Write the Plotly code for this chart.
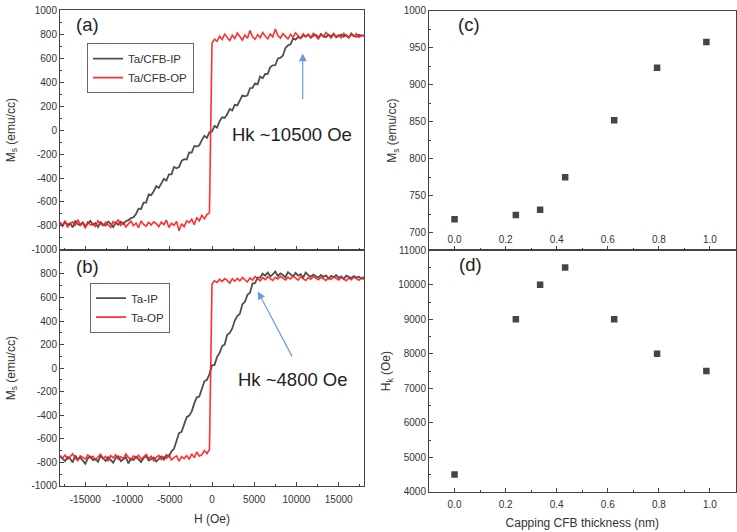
import plotly.graph_objects as go

# ---------------- data ----------------
# applied field grid (Oe) shared by the four M-H loops
H_FIELD = list(range(-18000, 18001, 300))

# (a) Ta/CFB  in-plane / out-of-plane  (emu/cc)
MS_A_IP = [
    -772, -801, -765, -790, -778, -812, -760, -785, -795, -770,
    -803, -781, -758, -792, -776, -808, -769, -788, -797, -764,
    -782, -810, -773, -791, -766, -784, -760,
    -752, -735, -728, -700,
    -656, -658, -606, -605, -537, -543, -510, -468, -483, -450,
    -406, -422, -370, -369, -308, -318, -309, -256, -243, -246,
    -186, -188, -132, -137, -127, -81, -48, -65, -17, -11,
    35, 21, 74, 107, 102, 132, 177, 164, 211, 206,
    249, 290, 283, 290, 350, 352, 391, 383, 448, 433,
    469, 470, 527, 541, 542, 599, 604, 624, 686, 708,
    716, 765, 756, 779,
    768, 792, 780, 801, 774, 789, 796, 771, 803, 785,
    777, 798, 782, 806, 775, 790, 799, 781, 794, 772,
    808, 786, 779, 797, 788, 792,
]
MS_A_OP = [
    -770, -795, -758, -812, -781, -766, -799, -748, -788, -775,
    -820, -762, -791, -779, -805, -757, -784, -798, -769, -790,
    -812, -764, -780, -747, -795, -772, -808, -783, -760, -798,
    -776, -815, -759, -787, -801, -770, -792, -765, -781, -806,
    -768, -789, -752, -813, -778, -795, -762, -840, -781, -806,
    -758, -772, -745, -790, -730, -758, -712, -741, -705, -690,
    725, 760, 742, 785, 758, 801, 770, 748, 792, 765,
    810, 777, 752, 795, 768, 832, 780, 759, 798, 772,
    815, 786, 763, 802, 779, 845, 790, 768, 806, 783,
    761, 799, 775, 812, 788, 766, 804, 781, 795, 770,
    808, 784, 762, 797, 779, 815, 788, 769, 801, 782,
    794, 771, 809, 786, 778, 798, 783, 805, 775, 792, 788,
]

# (b) Ta  in-plane / out-of-plane  (emu/cc)
MS_B_IP = [
    -748, -772, -790, -755, -768, -801, -742, -776, -759, -785,
    -812, -764, -750, -781, -770, -795, -745, -766, -788, -757,
    -779, -803, -761, -748, -790, -772, -756, -809, -768, -781,
    -752, -775, -798, -763, -747, -784, -770, -758, -793, -766,
    -749, -777, -738, -752,
    -706, -685, -608, -551, -540, -485, -416, -403, -367, -299,
    -248, -241, -173, -112, -99, -50, 24, 28, 95, 129,
    188, 200, 284, 299, 337, 404, 442, 461, 543, 564,
    622, 640, 718, 723, 768, 770,
    802, 785, 812, 778, 796, 820, 783, 805, 790, 772,
    815, 794, 779, 808, 786, 798, 770, 812, 789, 776,
    795, 781, 768, 792, 775, 787, 760, 783, 771, 790,
    766, 779, 758, 785, 772, 764, 781, 769, 776, 760, 774,
]
MS_B_OP = [
    -742, -765, -738, -771, -752, -728, -760, -785, -745, -757,
    -770, -736, -762, -748, -779, -755, -731, -766, -750, -789,
    -743, -761, -737, -774, -752, -768, -729, -758, -781, -746,
    -763, -740, -772, -755, -733, -768, -749, -786, -757, -741,
    -775, -752, -766, -738, -779, -760, -745, -790, -752, -768,
    -742, -775, -728, -760, -712, -748, -735, -700, -725, -690,
    715, 742, 728, 755, 735, 760, 745, 722, 758, 738,
    762, 741, 770, 750, 732, 765, 748, 778, 756, 742,
    768, 752, 775, 760, 745, 772, 758, 780, 763, 749,
    771, 757, 783, 762, 748, 775, 760, 744, 769, 755,
    778, 761, 750, 772, 758, 745, 767, 753, 776, 760,
    748, 770, 756, 742, 765, 751, 774, 759, 746, 768, 755,
]

# (c),(d) vs capping CFB thickness
CAP_THICK = [0.0, 0.24, 0.335, 0.433, 0.625, 0.793, 0.986]
MS_CAP = [718, 724, 731, 775, 852, 923, 958]
HK_CAP = [4500, 9000, 10000, 10500, 9000, 8000, 7500]

LEFT_Y_TICKS = [-1000, -800, -600, -400, -200, 0, 200, 400, 600, 800, 1000]
LEFT_X_TICKS = [-15000, -10000, -5000, 0, 5000, 10000, 15000]
C_Y_TICKS = [700, 750, 800, 850, 900, 950, 1000]
D_Y_TICKS = [4000, 5000, 6000, 7000, 8000, 9000, 10000, 11000]
CAP_X_TICKS = [0.0, 0.2, 0.4, 0.6, 0.8, 1.0]

# ---------------- figure ----------------
W, H = 737, 532
FONT = "Liberation Sans"
BLACK_LINE = "rgba(60,60,60,0.9)"
RED_LINE = "rgba(255,30,30,0.92)"

fig = go.Figure()
fig.add_trace(go.Scatter(x=H_FIELD, y=MS_A_IP, mode="lines", name="Ta/CFB-IP",
                         line=dict(color=BLACK_LINE, width=1.8), xaxis="x", yaxis="y", legend="legend"))
fig.add_trace(go.Scatter(x=H_FIELD, y=MS_A_OP, mode="lines", name="Ta/CFB-OP",
                         line=dict(color=RED_LINE, width=1.6), xaxis="x", yaxis="y", legend="legend"))
fig.add_trace(go.Scatter(x=H_FIELD, y=MS_B_IP, mode="lines", name="Ta-IP",
                         line=dict(color=BLACK_LINE, width=1.8), xaxis="x2", yaxis="y2", legend="legend2"))
fig.add_trace(go.Scatter(x=H_FIELD, y=MS_B_OP, mode="lines", name="Ta-OP",
                         line=dict(color=RED_LINE, width=1.6), xaxis="x2", yaxis="y2", legend="legend2"))
fig.add_trace(go.Scatter(x=CAP_THICK, y=MS_CAP, mode="markers", showlegend=False,
                         marker=dict(symbol="square", size=6.5, color="#454545"), xaxis="x3", yaxis="y3"))
fig.add_trace(go.Scatter(x=CAP_THICK, y=HK_CAP, mode="markers", showlegend=False,
                         marker=dict(symbol="square", size=6.5, color="#454545"), xaxis="x4", yaxis="y4"))


def px_x(p):
    return p / W


def px_y(p):
    return 1 - p / H


common = dict(showline=True, linecolor="#444", linewidth=1, mirror=True,
              ticks="inside", ticklen=4, tickcolor="#444", tickwidth=1,
              tickfont=dict(family=FONT, size=10, color="#333"),
              showgrid=False, zeroline=False)

LX = [px_x(60), px_x(364)]
RX = [px_x(429), px_x(735.5)]
title_font = dict(family=FONT, size=12, color="#333")

fig.update_layout(
    width=W, height=H, autosize=False,
    margin=dict(l=0, r=0, t=0, b=0),
    paper_bgcolor="white", plot_bgcolor="white",
    xaxis=dict(common, domain=LX, anchor="y", range=[-18000, 18000],
               tickvals=LEFT_X_TICKS, showticklabels=False,
               minor=dict(ticks="inside", ticklen=2, dtick=2500, tick0=0, tickcolor="#444")),
    yaxis=dict(common, domain=[px_y(249.5), px_y(4.5)], anchor="x", range=[-1000, 1000],
               tickvals=LEFT_Y_TICKS, ticktext=[str(v) for v in LEFT_Y_TICKS],
               minor=dict(ticks="inside", ticklen=2, dtick=100, tick0=0, tickcolor="#444"),
               title=dict(text="M<sub>s</sub> (emu/cc)", font=title_font, standoff=13)),
    xaxis2=dict(common, domain=LX, anchor="y2", range=[-18000, 18000],
                tickvals=LEFT_X_TICKS, ticktext=[str(v) for v in LEFT_X_TICKS],
                ticklabelstandoff=4,
                minor=dict(ticks="inside", ticklen=2, dtick=2500, tick0=0, tickcolor="#444"),
                title=dict(text="H (Oe)", font=title_font, standoff=10)),
    yaxis2=dict(common, domain=[px_y(491), px_y(250)], anchor="x2", range=[-1000, 1000],
                tickvals=LEFT_Y_TICKS[:-1], ticktext=[str(v) for v in LEFT_Y_TICKS[:-1]],
                minor=dict(ticks="inside", ticklen=2, dtick=100, tick0=0, tickcolor="#444"),
                title=dict(text="M<sub>s</sub> (emu/cc)", font=title_font, standoff=13)),
    xaxis3=dict(common, domain=RX, anchor="y3", range=[-0.1, 1.1],
                tickvals=CAP_X_TICKS, ticktext=["%.1f" % v for v in CAP_X_TICKS],
                ticklabelposition="inside",
                minor=dict(ticks="inside", ticklen=2, dtick=0.1, tick0=0, tickcolor="#444")),
    yaxis3=dict(common, domain=[px_y(250), px_y(5)], anchor="x3", range=[676, 1000],
                tickvals=C_Y_TICKS, ticktext=[str(v) for v in C_Y_TICKS],
                minor=dict(ticks="inside", ticklen=2, dtick=25, tick0=0, tickcolor="#444"),
                title=dict(text="M<sub>s</sub> (emu/cc)", font=title_font, standoff=4)),
    xaxis4=dict(common, domain=RX, anchor="y4", range=[-0.1, 1.1],
                tickvals=CAP_X_TICKS, ticktext=["%.1f" % v for v in CAP_X_TICKS],
                ticklabelstandoff=3,
                minor=dict(ticks="inside", ticklen=2, dtick=0.1, tick0=0, tickcolor="#444"),
                title=dict(text="Capping CFB thickness (nm)", font=title_font, standoff=9)),
    yaxis4=dict(common, domain=[px_y(497), px_y(250)], anchor="x4", range=[4000, 11000],
                tickvals=D_Y_TICKS, ticktext=[str(v) for v in D_Y_TICKS],
                minor=dict(ticks="inside", ticklen=2, dtick=500, tick0=0, tickcolor="#444"),
                title=dict(text="H<sub>k</sub> (Oe)", font=title_font, standoff=4)),
    legend=dict(x=px_x(87), y=px_y(38), xanchor="left", yanchor="top",
                bgcolor="white", bordercolor="#666", borderwidth=1,
                font=dict(family=FONT, size=11.5, color="#333"), tracegroupgap=0,
                itemwidth=30),
    legend2=dict(x=px_x(90), y=px_y(283), xanchor="left", yanchor="top",
                 bgcolor="white", bordercolor="#666", borderwidth=1,
                 font=dict(family=FONT, size=11.5, color="#333"), tracegroupgap=0,
                 itemwidth=30),
)

label_font = dict(family=FONT, size=18.5, color="#222")
annos = [
    dict(text="(a)", xref="x domain", yref="y domain", x=0.092, y=0.943),
    dict(text="(b)", xref="x2 domain", yref="y2 domain", x=0.092, y=0.93),
    dict(text="(c)", xref="x3 domain", yref="y3 domain", x=0.13, y=0.945),
    dict(text="(d)", xref="x4 domain", yref="y4 domain", x=0.134, y=0.94),
    dict(text="Hk ~10500 Oe", xref="x", yref="y", x=9450, y=-33),
    dict(text="Hk ~4800 Oe", xref="x2", yref="y2", x=9570, y=-96),
]
for a in annos:
    fig.add_annotation(showarrow=False, font=label_font, xanchor="center", yanchor="middle", **a)

# arrows marking Hk
fig.add_annotation(x=10750, y=640, ax=10750, ay=245, xref="x", yref="y", axref="x", ayref="y",
                   text="", showarrow=True, arrowhead=2, arrowsize=1.3, arrowwidth=1.2,
                   arrowcolor="#6b9be0")
fig.add_annotation(x=5430, y=651, ax=9570, ay=87, xref="x2", yref="y2", axref="x2", ayref="y2",
                   text="", showarrow=True, arrowhead=2, arrowsize=1.3, arrowwidth=1.2,
                   arrowcolor="#6b9be0")

fig.write_html("out.html")
